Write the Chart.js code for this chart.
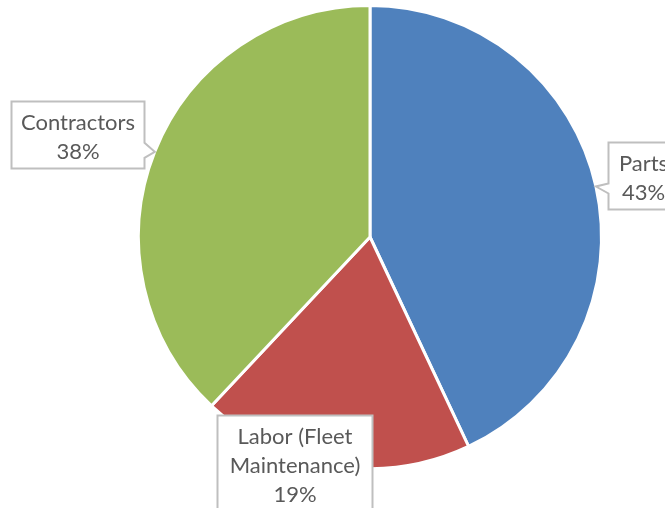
<!DOCTYPE html>
<html>
<head>
<meta charset="utf-8">
<title>Cost breakdown</title>
<script src="https://cdn.jsdelivr.net/npm/chart.js@4/dist/chart.umd.min.js"></script>
<style>
  html, body { margin: 0; padding: 0; background: #ffffff; overflow: hidden; }
  #wrap { width: 665px; height: 508px; }
</style>
</head>
<body>
<div id="wrap"><canvas id="pie" width="665" height="508"></canvas></div>
<script>
// Cost categories, clockwise from twelve o'clock
const categories = ['Parts', 'Labor (Fleet Maintenance)', 'Contractors'];
const shares = [43, 19, 38];
const sliceColors = ['#4F81BD', '#C0504D', '#9BBB59'];

// Callout box placement relative to the slice's edge point (dx/dy to box top-left)
const calloutBoxes = [
  { dx: 12,   dy: -44, w: 70,  h: 67 },
  { dx: -117, dy: -51, w: 155, h: 100 },
  { dx: -144, dy: -51, w: 133, h: 67 }
];

const FONT = '22px Lato, "Open Sans", sans-serif';
const TEXT_COLOR = '#595959';
const BOX_BORDER = '#BFBFBF';

function wrapText(ctx, text, maxW) {
  const words = text.split(' ');
  const lines = [];
  let cur = '';
  for (const w of words) {
    const test = cur ? cur + ' ' + w : w;
    if (cur && ctx.measureText(test).width > maxW) {
      lines.push(cur);
      cur = w;
    } else {
      cur = test;
    }
  }
  if (cur) lines.push(cur);
  return lines;
}

const calloutPlugin = {
  id: 'callouts',
  afterDatasetsDraw(chart) {
    const ctx = chart.ctx;
    const meta = chart.getDatasetMeta(0);
    const values = chart.data.datasets[0].data;
    const total = values.reduce((a, b) => a + b, 0);
    ctx.save();
    ctx.font = FONT;
    meta.data.forEach((arc, i) => {
      const p = arc.getProps(['x', 'y', 'startAngle', 'endAngle', 'outerRadius'], true);
      const mid = (p.startAngle + p.endAngle) / 2;
      const tx = p.x + Math.cos(mid) * p.outerRadius;
      const ty = p.y + Math.sin(mid) * p.outerRadius;
      const b = calloutBoxes[i];
      const left = Math.round(tx + b.dx) + 0.5;
      const top = Math.round(ty + b.dy) + 0.5;
      const right = left + b.w;
      const bottom = top + b.h;

      // box outline with an optional pointer toward the slice
      ctx.beginPath();
      ctx.moveTo(left, top);
      ctx.lineTo(right, top);
      if (tx > right) {
        ctx.lineTo(right, ty - 9);
        ctx.lineTo(tx, ty);
        ctx.lineTo(right, ty + 6);
      }
      ctx.lineTo(right, bottom);
      ctx.lineTo(left, bottom);
      if (tx < left) {
        ctx.lineTo(left, ty + 7);
        ctx.lineTo(tx, ty);
        ctx.lineTo(left, ty - 3);
      }
      ctx.closePath();
      ctx.fillStyle = '#ffffff';
      ctx.fill();
      ctx.lineWidth = 2;
      ctx.strokeStyle = BOX_BORDER;
      ctx.stroke();

      // label text, centred
      const pct = Math.round(values[i] / total * 100) + '%';
      const lines = wrapText(ctx, chart.data.labels[i], b.w - 10);
      lines.push(pct);
      ctx.fillStyle = TEXT_COLOR;
      ctx.textAlign = 'center';
      ctx.textBaseline = 'alphabetic';
      const cx = left + b.w / 2;
      lines.forEach((ln, k) => {
        ctx.fillText(ln, cx, top + 28 + k * 29);
      });
    });
    ctx.restore();
  }
};

new Chart(document.getElementById('pie'), {
  type: 'pie',
  data: {
    labels: categories,
    datasets: [{
      data: shares,
      backgroundColor: sliceColors,
      borderColor: '#ffffff',
      borderWidth: 3
    }]
  },
  options: {
    responsive: false,
    animation: false,
    layout: { padding: { left: 137, right: 62, top: 4, bottom: 38 } },
    plugins: {
      legend: { display: false },
      tooltip: { enabled: false }
    }
  },
  plugins: [calloutPlugin]
});
</script>
</body>
</html>
